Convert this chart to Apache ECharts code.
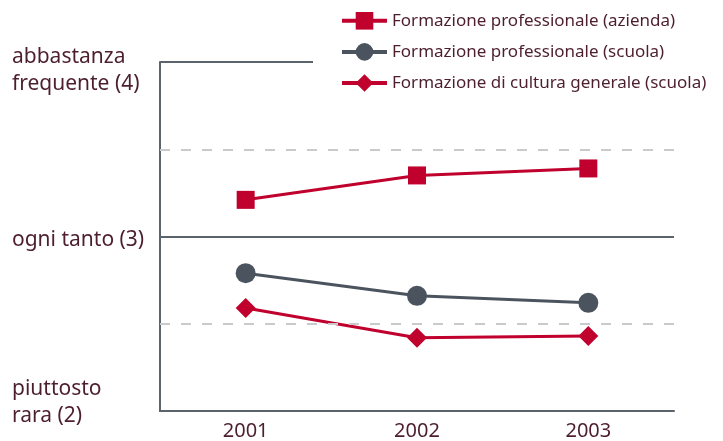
<!DOCTYPE html>
<html>
<head>
<meta charset="utf-8">
<script src="https://cdn.jsdelivr.net/npm/echarts@6/dist/echarts.min.js"></script>
<style>
  html, body { margin: 0; padding: 0; background: #fff; }
  #chart { width: 723px; height: 441px; }
</style>
</head>
<body>
<div id="chart"></div>
<script>
// data
const years = ["2001", "2002", "2003"];
const seriesNames = [
  "Formazione professionale (azienda)",
  "Formazione professionale (scuola)",
  "Formazione di cultura generale (scuola)"
];
const aziendaValues = [3.21, 3.35, 3.39];
const scuolaValues = [2.79, 2.66, 2.62];
const culturaValues = [2.59, 2.42, 2.43];
const tickValues = [4, 3, 2];
const tickLabels = ["abbastanza\nfrequente (4)", "ogni tanto (3)", "piuttosto\nrara (2)"];
const dashedLevels = [2.5, 3.5];
const solidLevel = 3;

const red = "#c0002d";
const grey = "#4b545e";
const axisGrey = "#5b636b";
const textColor = "#4d1f2e";
const font = "Noto Sans";

// vertical nudge of each y label relative to its tick
const labelNudge = [8.5, 4, -8.5];

let myChart = echarts.init(document.getElementById("chart"));

myChart.setOption({
  animation: false,
  grid: { left: 160, right: 49, top: 62, bottom: 30 },
  legend: {
    orient: "vertical",
    left: 340,
    top: 12,
    padding: 0,
    itemWidth: 45,
    itemHeight: 22,
    itemGap: 13.5,
    lineStyle: { width: 4 },
    textStyle: { fontFamily: font, fontSize: 17, color: textColor },
    data: seriesNames
  },
  xAxis: {
    type: "category",
    data: years,
    axisLine: { lineStyle: { color: axisGrey, width: 2 } },
    axisTick: { show: false },
    axisLabel: { fontFamily: font, fontSize: 20, color: textColor, margin: 10 }
  },
  yAxis: {
    type: "value",
    min: 2,
    max: 4,
    interval: 0.5,
    axisLine: { show: true, lineStyle: { color: axisGrey, width: 2 } },
    axisTick: { show: false },
    axisLabel: { show: false },
    splitLine: { show: false }
  },
  series: [
    {
      name: seriesNames[0],
      type: "line",
      data: aziendaValues,
      symbol: "rect",
      symbolSize: 18,
      color: red,
      lineStyle: { width: 3 },
      z: 3,
      markLine: {
        silent: true,
        symbol: "none",
        label: { show: false },
        data: dashedLevels.map(v => ({
          yAxis: v,
          lineStyle: { type: [10, 11], color: "#c8cacc", width: 2 }
        })).concat([{
          yAxis: solidLevel,
          lineStyle: { type: "solid", color: axisGrey, width: 2 }
        }])
      }
    },
    {
      name: seriesNames[1],
      type: "line",
      data: scuolaValues,
      symbol: "circle",
      symbolSize: 20,
      color: grey,
      lineStyle: { width: 3 },
      z: 3
    },
    {
      name: seriesNames[2],
      type: "line",
      data: culturaValues,
      symbol: "diamond",
      symbolSize: 20,
      color: red,
      lineStyle: { width: 3 },
      z: 3
    }
  ]
});

// y labels and the short top rule, placed through the axis scale
function placeDecor() {
  const x0 = myChart.convertToPixel({ xAxisIndex: 0 }, years[0]) - 85.5;
  const yTop = myChart.convertToPixel({ yAxisIndex: 0 }, 4);
  const texts = tickValues.map((v, i) => ({
    type: "text",
    x: 12,
    y: myChart.convertToPixel({ yAxisIndex: 0 }, v) + labelNudge[i],
    style: {
      text: tickLabels[i],
      fontFamily: font,
      fontSize: 21,
      lineHeight: 27,
      fill: textColor,
      align: "left",
      verticalAlign: "middle"
    }
  }));
  myChart.setOption({
    graphic: texts.concat([{
      type: "line",
      shape: { x1: x0, y1: yTop, x2: 313, y2: yTop },
      style: { stroke: axisGrey, lineWidth: 2 }
    }])
  });
}
placeDecor();

window.onresize = function () {
  myChart.resize();
  placeDecor();
};
</script>
</body>
</html>
